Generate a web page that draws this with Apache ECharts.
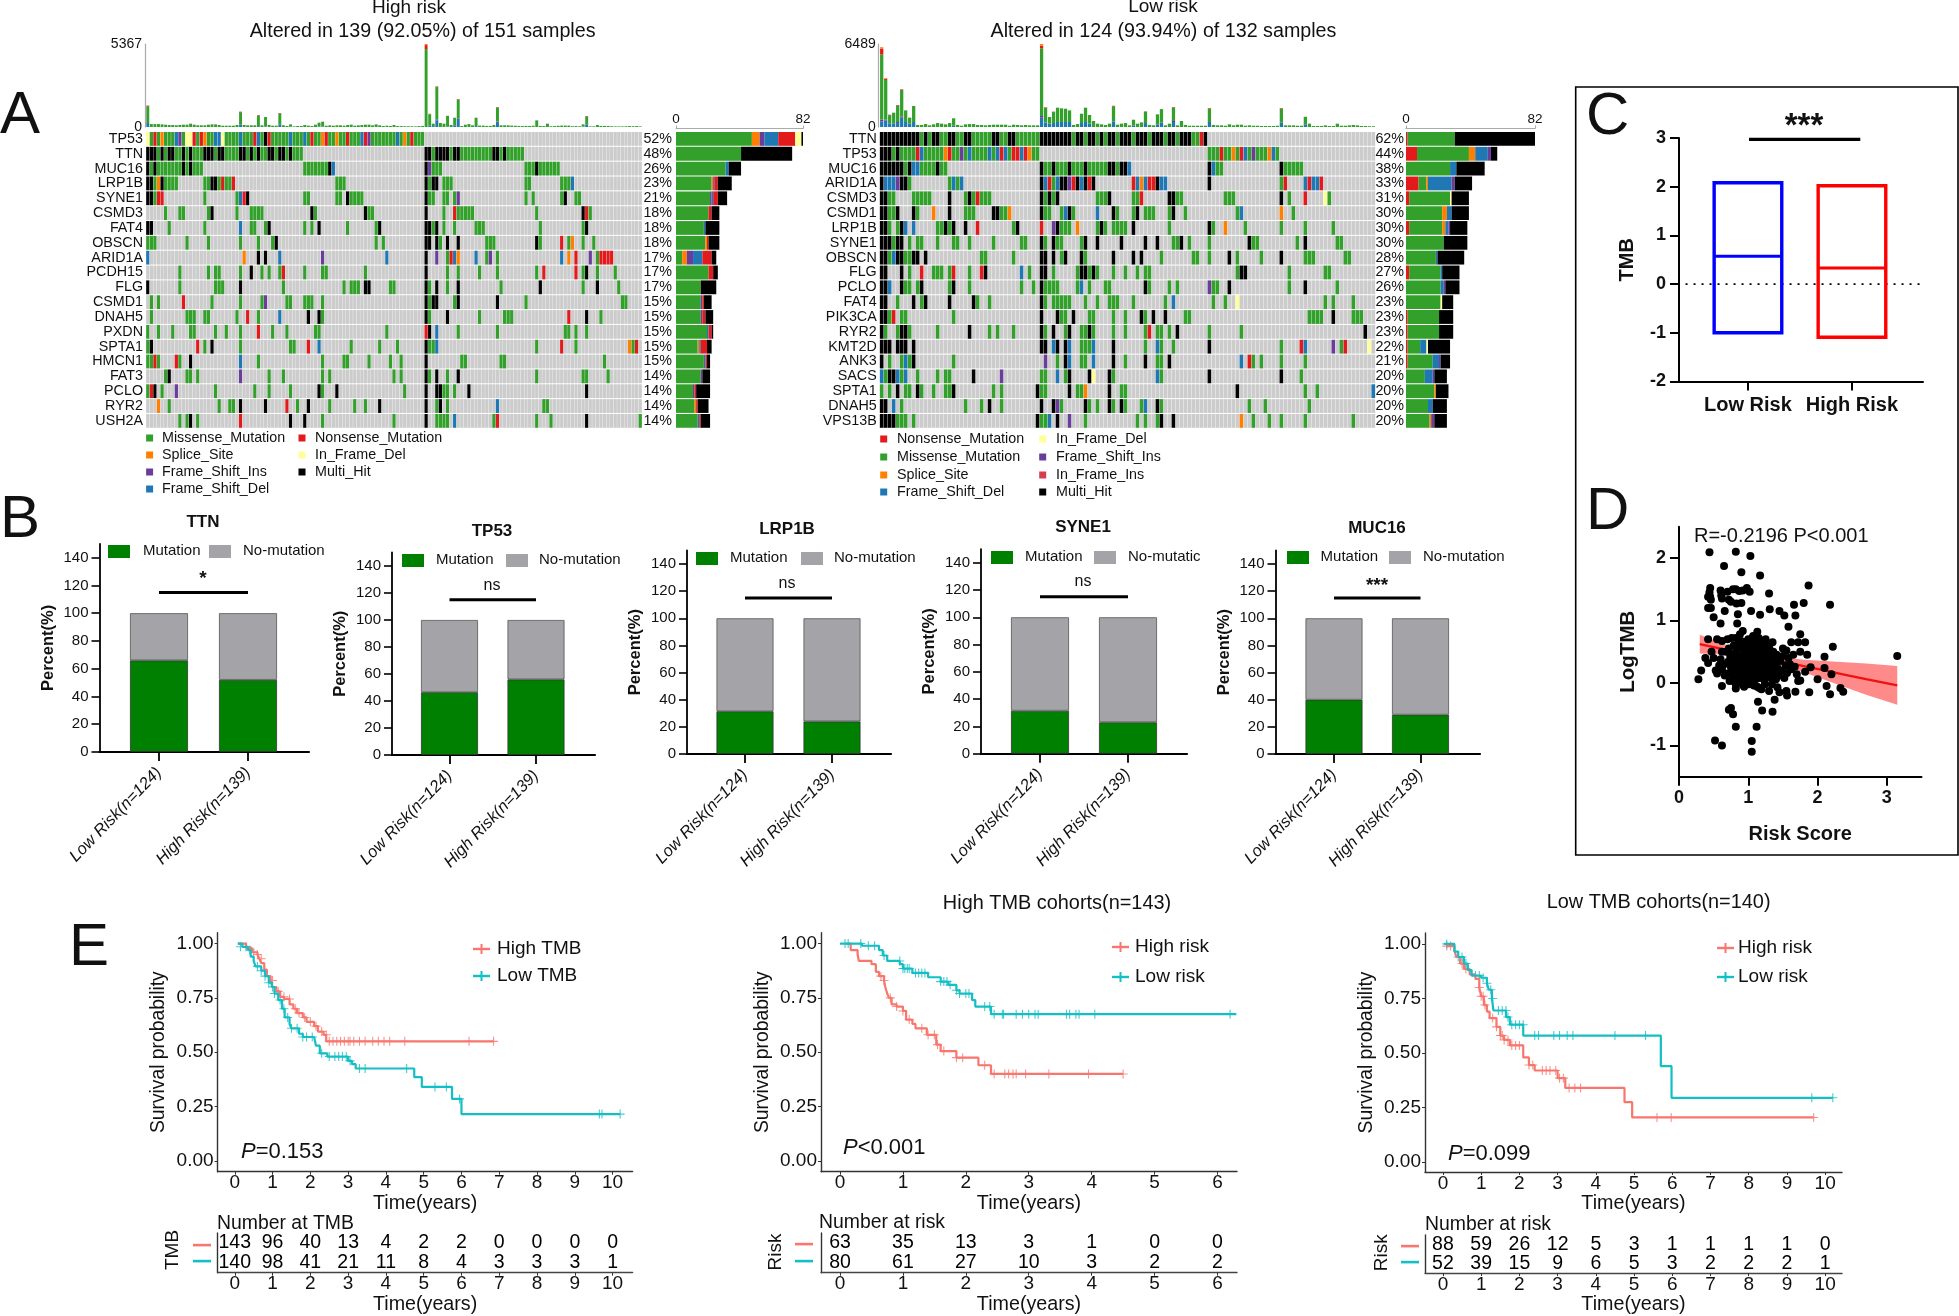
<!DOCTYPE html>
<html><head><meta charset="utf-8"><style>html,body{margin:0;padding:0;background:#fff}#c{width:1959px;height:1316px}</style>
<script src="https://cdn.jsdelivr.net/npm/echarts@6/dist/echarts.min.js"></script></head><body><div id="c"></div>
<script>
// ---------- DATA ----------
const genesHigh=['TP53','TTN','MUC16','LRP1B','SYNE1','CSMD3','FAT4','OBSCN','ARID1A','PCDH15','FLG','CSMD1','DNAH5','PXDN','SPTA1','HMCN1','FAT3','PCLO','RYR2','USH2A'];
const pctHigh=['52%','48%','26%','23%','21%','18%','18%','18%','17%','17%','17%','15%','15%','15%','15%','15%','14%','14%','14%','14%'];
const rowsHigh=[
"0f 1m 2n 3m 4s 5m3 8d 9i 10m 11f2 13n 14m 15n 16s 17m2 19d2 21f 22m4 26d 27m3 30n 31d 32m 33h 34n 35m5 40d 41m3 44d 45m 46n 47m2 49s 50n 51m2 53s 54m2 56n 57m3 60d 61n 62i 63m7 70d 71m 72s 73m 74n 75m3",
"0h3 3m 4h 5m 6h2 8m2 10h 11m 12h 13m3 16h3 19m 20h2 22m4 26h2 28m 29h 30m 31h 32m2 34h2 36m 37h2 39m 40h 41m3 78h2 80m 81h4 85m 86h2 88m9 97h2 99m 100h 101m5",
"0h 1m 2h 3m7 10h 11m 12h 13m3 44m7 51h 52d 78h 79i 80m3 106m3 109h 110m6",
"0h2 2m 3s 4h 5m4 16m2 18h2 20m 21n 22m2 24n 53m3 78h 79m 80h2 83m3 106m2 116m3 119d",
"0h2 2m 3n2 16m 25m 26d 27n 28h 44m2 53m2 56h 57m4 78h 79m2 83m2 86m 87i 106m 108m 116m 117h 120m2",
"5m 9m2 17m 18h 25m 29m4 46h 47m 61h 62m2 78h 83m 86n 87m5 109m 122h 123n 124m",
"0h2 6m 16m 26d 29m2 33m 34h 44m 46m 48h 56m 64m 65h 78h2 80m 81h 83m 86m 92m3 110m 122m 123h",
"0m3 11m 17m 26m 31m 35m 36h 64m 66m 78h2 81h 82m 84h 87h 95m3 109h 110m 116n 118m 119s 122m 125m",
"0d 27s 31h 33h 37d 49i 67d 78h 81i 84m 85n 86d 87s 92d 95m 96i 98m 116d 118s 120n 124i 126m 127n4",
"9m 17m 19m2 26m 29h 32m 34m 37m 38n 44m 49m2 61m 78h 84m 87m 93m 98m 109m 111n 120n 122m 123h 126m 131m",
"0h 9m 19m3 26h 38m 55m 57m3 61h2 68m2 78h 79m 81h 84m 87h 99m 110h 122m 126h 132m",
"1m 3m 10n 18m 26m 32m 33i 39m2 44m3 49m 78h 79m 80h2 86m 87h 98h 106m 133m2",
"1m 11m3 16m2 25m 28n 31m 37d 45h 48h 49m 78h 79m 84h 93m 100m3 118n 123h 127m",
"0m 3m 7m 12m2 19m 22m 26m 31n 35m 39m 47m2 67m 78n 79h 81d 87m 98m 117m2 120m 123m",
"0m 1h 14n 16m 18h 26m 40m2 45n 48d 57m 65m 70m 78h 79m2 81d 109m 116n 120m 135s 136m 137n",
"0m2 2n 3m 8n 9m 12h 26d 31m 49m 55m2 62m 68m 71m 78h 88m2 99m2 128m",
"5m 6h 11m2 14m 26i 34m 38m 49m 51m 69m 71m 78h 79m 81h 84m 87h 109m 122m2 129m",
"0m 1n 2h 4m 8i 19m 30m 34m 40m 48h 49m 53h 72m 78h 81h2 83m2 86m 90h 123h",
"3s 6m 20m 23m2 26h 33h 39n 42m 45h 51m 58m 61m 65h 78h 81m 82h 84m 98d 111m2",
"9m 11m 12h 14m 26n 40h 44h 49m 69m 78h 81m4 86d 97m 98n 109m 113m 123h 138m"];
const genesLow=['TTN','TP53','MUC16','ARID1A','CSMD3','CSMD1','LRP1B','SYNE1','OBSCN','FLG','PCLO','FAT4','PIK3CA','RYR2','KMT2D','ANK3','SACS','SPTA1','DNAH5','VPS13B'];
const pctLow=['62%','44%','38%','33%','31%','30%','30%','30%','28%','27%','26%','23%','23%','23%','22%','21%','20%','20%','20%','20%'];
const rowsLow=[
"0h10 10m 11h 12m 13h2 15m2 17h2 19m2 21h2 23m5 28h2 30m2 32h2 34m6 40h8 48m 49h2 51m 52h2 54m 55h 56m 57h2 59m 60h3 63m 64h3 67m 68h3 71m 72h2 74m 75h3 78m2 80n 81h",
"0h3 3m 4h 5m4 9n 10d 11m5 16s 17n 18m2 20i 21m 22d 23m4 27d 28m 29d 30n 31d 32m 33n2 35d 36n 37s 38m2 82m3 85n 86m2 88s 89m 90n 91d 92m 93i 94m3 97s 98d 99m",
"0h6 6m 7h 8d2 10m4 14h 15m2 40h 41m2 43h 44m3 47h 48m3 51h 52m5 57h2 59m 60h2 62d 82h 83d 84m2 100h 101m5",
"0h 1d3 4i 5h2 7m 17m 18d 19m 20d 40h 41d 42n 43m 44d 45h2 47i 48n 49h 50d 51h 52n 53h 63n 64d 65s 66d 67n2 69h 70d2 82h 100m 101n 106d 107n 108d2 110n",
"0h2 2m2 8m5 17h 21m 22h 23m 24n 25m3 40h 41m 42h 43m 44h 54m3 57h 63m2 65n 72h2 74m2 86m3 100h 102m 106n 111f 112m",
"0h2 2m2 4h 8h 9m 13s 17h 21m3 28h2 30m2 32s 40h 41m2 45m 46d 47h 48m 54d 58h 59m 63m 64h 66m3 72m 73h 76m 89m 90d 100s 103m",
"0h2 2m 4m 5h 6d 8d 14m2 16h 17m 18h 21h 24n 33m 34h 40n 43i 44h 45m3 49s 54m 55h 56m 58m4 63h 72m 82h 83m 86s 91m 100m 106m 113m",
"0h3 3m 4h2 7m 9m2 14m 18m2 22m 28m 35m2 40h 41m 43h 44m2 50m 51h 54h 60h 66h 69h 73m2 75h 77m 82m 92h 93m2 104m 106h 114m2",
"0h2 2m 3d 4h2 6m2 8h2 11h 25m2 33m 40h2 43h 45m 46h 50h 51m 58h 63h 65h 70m 78m2 82m 87h 89m 95m 100h 106m3 116m2",
"0h2 5h 7m 10n 13m3 17m 18n 22m 25n 26h 35d 37m 40h2 43m 49m 50h2 52m 53h 54m 58m 61m 64m 66m2 89m 90h2 102m 111m2",
"0h2 2d 5h 6m2 9m 10h 17m 18h 22m 35m 38m 40h 41m4 49m 50d 52m 56m2 66h 67m 72m 74m 82i 83m2 87h 102m 106h 114m",
"0h2 4m 8h 10m 11h 17h 23h 24m 27m 40h 41m 43m5 51m 54m 57m3 63m 71m 73d 83m 86m 89f 111m 113m 118m",
"0h2 2m 3n 5m2 18m 40h 44h 45m2 48h 52m2 58m 61m 65h 66m 68h 71h 76m2 107m4 113h 118m3",
"0h 1m 4m 5h2 7m 14m 22h 27m 29m 33m 40h 41m 43h 46m 47h 50m2 52h 53m 58m 61m 66m 67n 69m2 72m 74h 82m 90m 121h",
"0h3 4h3 8h 40h2 43d 44h 46h 47d 50m3 53d 58h 66m 69d 70m 73m 82h 100m 105n 106d 113i 115m 116n 122f",
"0h 2m 5m 6d 7m 8h 18m 41i 44m 46h 47d 50m2 53d 58h 61m 66h 69m2 72h 90d 92n 93m 95m 100m 106m",
"0d 1m 2h2 4d 5m 6d 9m 14m 16m2 23h 30i 40m2 44d 46m 47h 52h 53f 57h 58m 69d 70m 82h 100h 105m",
"0m 2m 4h 6m2 9h 10m 13m 16m2 18h 28m 30m 39h 40m2 47h 49m2 51s 57h 60m2 89h 106m 109m 123d",
"0h2 3d 5m 21m 25m 27h 30m 40h 43h 44i 45m 51h 52m 54m 57h 58m 60h 61m 65m 66d 69h 70m 92m 96m 107m",
"0h4 4m3 8m 39h 40m2 42d 44h 47i 51m 64m 66m 69m 70h 73h 90s 93m 97m 100m 106m 118m"];
const tmbHigh=[1400,190,190,190,170,150,130,130,110,130,150,150,215,150,110,110,110,150,170,170,130,85,85,85,85,130,990,130,110,110,110,775,110,645,130,85,85,905,110,65,170,45,65,65,130,85,65,150,280,345,85,110,85,110,110,85,130,150,85,110,130,150,150,110,170,110,65,85,65,130,60,60,50,50,45,40,60,70,5367,860,215,2620,260,215,730,130,600,1805,65,150,190,110,600,90,90,70,70,130,1290,110,110,110,90,80,70,60,70,70,80,430,70,60,215,50,60,80,90,90,90,50,60,45,170,710,40,45,130,70,70,70,50,40,40,40,50,60,50,60,40];
const tmbHighDel={0:260,26:170,31:60,33:40,37:170,40:20,48:40,49:40,79:80,80:60,81:430,84:40,86:110,87:540,92:60,98:320,122:30,123:170};
const tmbHighIns={81:60,87:30,98:30};
const tmbHighNon={0:40,26:30,31:30,37:30,78:260,81:40,87:30,92:20,98:30,123:30};
const tmbHighSpl={0:20,78:70,79:30,84:20};
const tmbLow=[6240,3820,960,1120,1720,2940,1300,730,1640,160,160,230,130,210,310,260,210,310,680,160,100,210,230,230,160,160,130,160,180,180,180,180,100,180,160,130,160,130,130,130,6489,1560,780,1200,1510,1460,1430,1300,160,230,1040,1510,940,470,260,210,160,260,1660,180,260,310,130,570,260,360,1220,160,130,990,1400,130,260,1560,130,470,160,100,100,100,100,100,1480,160,130,130,100,210,130,180,180,100,130,100,100,80,80,80,80,100,1480,130,130,130,100,100,800,260,80,80,80,130,80,80,260,100,100,130,160,130,80,80,60,60];
const tmbLowDel={0:420,1:520,2:290,3:290,4:310,5:730,6:390,7:260,8:390,18:100,40:730,41:360,42:260,43:310,44:390,45:390,46:390,47:390,50:310,51:390,52:260,58:440,63:100,66:310,69:210,70:360,73:390,82:390,100:340,106:210};
const tmbLowIns={0:160,1:50,4:80,5:100,40:130,73:80};
const tmbLowNon={0:470,1:80,2:30,4:50,5:50,40:210,41:40,43:30,58:40,73:40,82:40,100:40};
const tmbLowSpl={0:110,1:60,40:130,41:30};
const sideOrderHigh=['m','s','i','d','n','f','h'];
const sideHigh=[[49,5,3,9,11,4,1],[42,0,0,0,0,0,33],[32,0,0,2,0,0,8],[23,1,1,0,2,0,9],[22,0,1,1,3,0,6],[21,0,0,0,2,0,5],[18,0,0,1,0,0,9],[19,1,0,0,1,0,7],[4,3,4,6,6,0,3],[21,0,0,0,3,0,3],[16,0,0,0,0,0,10],[16,0,1,0,1,0,5],[16,0,1,0,2,0,5],[20,0,0,1,2,0,1],[14,1,0,1,4,0,3],[18,0,0,1,1,0,2],[16,0,1,0,0,0,5],[11,0,1,0,1,0,9],[12,1,0,0,1,0,7],[14,0,0,1,1,0,6]];
const sideOrderLow=['n','m','s','d','i','f','h'];
const sideLow=[[1,30,0,0,0,0,51],[7,33,4,8,2,0,4],[0,28,0,4,0,0,18],[8,5,1,15,2,0,11],[2,26,0,0,0,1,11],[0,23,3,3,0,0,11],[2,21,2,2,1,0,11],[0,24,0,0,0,0,15],[0,19,0,1,0,0,17],[2,20,0,1,0,0,11],[0,22,0,2,1,0,9],[0,22,0,0,0,1,7],[1,20,0,0,0,0,9],[1,20,0,0,0,0,9],[1,8,0,4,0,1,14],[1,16,0,4,1,0,6],[0,12,0,5,1,0,8],[0,18,1,0,0,0,8],[0,14,0,3,0,0,9],[0,15,1,0,2,0,8]];
const typeNames={m:'Missense_Mutation',n:'Nonsense_Mutation',s:'Splice_Site',i:'Frame_Shift_Ins',d:'Frame_Shift_Del',f:'In_Frame_Del',h:'Multi_Hit',r:'In_Frame_Ins'};
const typeColors={m:'#33A02C',n:'#E31A1C',s:'#FF7F00',i:'#6A3D9A',d:'#1F78B4',f:'#FFFF99',h:'#000000',r:'#D53E4F'};
const barGenes=['TTN','TP53','LRP1B','SYNE1','MUC16'];
const barCats=['Low Risk(n=124)','High Risk(n=139)'];
const mutLow=[66,46.5,31.5,31.5,40];
const mutHigh=[52,56,24,23,29];
const barSig=['*','ns','ns','ns','***'];
const pctTicks=[0,20,40,60,80,100,120,140];
const boxCats=['Low Risk','High Risk'];
const boxLow=[-1,0.57,2.08];
const boxHigh=[-1.09,0.33,2.02];
const tmbScatter=[[0.44,2.09],[0.82,2.1],[1.03,2.03],[0.65,1.87],[0.9,1.77],[1.17,1.72],[1.87,1.56],[0.45,1.52],[0.44,1.45],[0.45,1.38],[0.42,1.38],[0.46,1.33],[0.6,1.48],[0.61,1.4],[0.7,1.46],[0.78,1.5],[0.82,1.5],[0.87,1.47],[0.92,1.48],[0.98,1.52],[1.02,1.46],[0.62,1.35],[0.72,1.33],[0.75,1.3],[0.83,1.27],[0.9,1.28],[1.3,1.43],[0.42,1.2],[0.46,1.2],[0.66,1.15],[0.5,1.05],[1.04,1.15],[1.17,1.09],[1.31,1.18],[1.45,1.15],[1.52,1.08],[1.66,1.25],[1.8,1.28],[2.18,1.25],[1.68,1.08],[0.85,1.1],[0.6,0.95],[0.84,0.95],[1.58,0.9],[0.92,0.83],[1.13,0.82],[0.88,0.78],[1.75,0.78],[0.42,0.7],[0.55,0.7],[0.62,0.67],[0.7,0.7],[0.76,0.72],[0.82,0.72],[0.88,0.68],[1.72,0.65],[1.62,0.65],[1.82,0.65],[2.22,0.58],[1.0,0.7],[1.1,0.7],[1.2,0.65],[1.35,0.65],[1.5,0.55],[1.55,0.52],[0.28,0.06],[0.32,0.2],[0.38,0.4],[0.42,0.32],[0.47,0.5],[0.5,0.4],[0.53,0.2],[0.55,0.15],[0.62,0.22],[0.62,0.5],[0.6,0.38],[0.65,0.3],[0.62,-0.05],[0.7,0.15],[0.75,0.25],[0.78,0.45],[0.8,0.02],[0.82,-0.09],[0.85,0.2],[0.9,0.05],[0.92,-0.03],[0.72,-0.43],[0.75,-0.4],[0.78,-0.5],[0.82,-0.7],[0.52,-0.92],[0.62,-1.0],[1.05,-0.93],[1.05,-1.1],[1.12,-0.7],[1.14,-0.3],[1.2,-0.44],[1.35,-0.46],[1.38,-0.27],[1.3,-0.13],[1.42,-0.07],[1.45,-0.15],[1.55,-0.13],[1.56,-0.2],[1.68,-0.14],[1.88,-0.15],[2.13,-0.05],[2.18,-0.18],[2.33,-0.08],[2.37,-0.14],[2.0,0.06],[1.9,0.25],[2.1,0.24],[2.2,0.14],[2.1,0.42],[1.85,0.45],[1.75,0.5],[1.65,0.45],[1.6,0.3],[1.72,0.03],[1.75,0.04],[1.82,0.18],[3.15,0.43],
[0.72,0.55],[0.74,0.42],[0.76,0.33],[0.77,0.12],[0.79,0.6],[0.81,0.36],[0.83,0.5],[0.84,0.28],[0.86,0.62],[0.86,0.08],[0.88,0.42],[0.89,0.31],[0.9,0.55],[0.91,0.16],[0.93,0.66],[0.93,0.38],[0.94,0.24],[0.95,0.49],[0.96,0.07],[0.97,0.58],[0.98,0.33],[0.99,0.19],[1.0,0.44],[1.0,-0.02],[1.01,0.61],[1.02,0.27],[1.03,0.52],[1.04,0.11],[1.05,0.38],[1.06,0.66],[1.07,0.22],[1.08,0.47],[1.09,0.03],[1.09,0.56],[1.1,0.31],[1.11,0.14],[1.12,0.42],[1.13,-0.06],[1.13,0.6],[1.14,0.26],[1.15,0.5],[1.16,0.08],[1.17,0.36],[1.17,0.63],[1.18,0.19],[1.19,-0.1],[1.2,0.45],[1.21,0.28],[1.22,0.55],[1.23,0.05],[1.24,0.38],[1.25,0.16],[1.26,0.6],[1.27,0.24],[1.28,0.47],[1.29,0.09],[1.3,0.34],[1.31,0.53],[1.32,0.13],[1.33,0.42],[1.34,-0.02],[1.35,0.27],[1.36,0.5],[1.37,0.18],[1.38,0.37],[1.4,0.06],[1.41,0.45],[1.42,0.24],[1.44,0.12],[1.46,0.35],[1.48,0.2],[1.5,0.43],[1.52,0.08],[1.54,0.28],[1.56,0.16],[1.58,0.4],[1.62,0.22],[1.67,0.26],[1.7,0.14],[0.73,0.03],[0.78,0.22],[0.85,0.4],[0.88,0.56],[0.92,0.12],[0.95,0.3],[0.98,0.52],[1.02,0.06],[1.04,0.33],[1.06,0.48],[1.1,0.2],[1.12,0.58],[1.15,0.32],[1.18,0.5],[1.22,0.1],[1.25,0.42],[1.28,0.18],[1.32,0.3],[1.36,0.08],[1.4,0.26],[0.68,0.5],[0.66,0.12],[0.58,0.28],[0.71,0.34],[0.8,0.16],[0.82,-0.02],[0.94,-0.06],[1.08,-0.04],[1.16,-0.08],[1.24,-0.02],[1.07,0.75],[1.15,0.72],[1.25,0.7],[1.3,0.6]];
const fitX=[0.3,0.6,0.9,1.2,1.5,1.8,2.1,2.4,2.7,3.15];
const fitY=[0.62,0.55,0.48,0.41,0.34,0.27,0.2,0.13,0.06,-0.04];
const fitLo=[0.47,0.46,0.42,0.35,0.27,0.17,0.05,-0.07,-0.19,-0.35];
const fitHi=[0.77,0.64,0.54,0.47,0.41,0.37,0.35,0.33,0.31,0.27];
const survTicks=[0,0.25,0.5,0.75,1];
const km1High=[[0.08,1],[0.3,0.98],[0.45,0.96],[0.6,0.95],[0.65,0.93],[0.7,0.91],[0.78,0.88],[0.85,0.85],[0.95,0.83],[1.0,0.8],[1.1,0.78],[1.2,0.755],[1.3,0.745],[1.45,0.72],[1.55,0.7],[1.65,0.68],[1.8,0.66],[1.9,0.64],[2.1,0.62],[2.2,0.595],[2.35,0.58],[2.42,0.55],[6.85,0.55]];
const km1HighCens=[[0.5,0.96],[0.6,0.95],[0.7,0.93],[1.0,0.83],[1.15,0.78],[1.3,0.755],[1.45,0.745],[1.6,0.7],[1.7,0.68],[1.85,0.66],[2.0,0.64],[2.15,0.62],[2.3,0.595],[2.42,0.58],[2.5,0.55],[2.6,0.55],[2.7,0.55],[2.8,0.55],[2.9,0.55],[3.0,0.55],[3.05,0.55],[3.15,0.55],[3.3,0.55],[3.45,0.55],[3.65,0.55],[3.8,0.55],[3.95,0.55],[4.1,0.55],[4.5,0.55],[6.2,0.55],[6.85,0.55]];
const km1Low=[[0.08,1],[0.2,0.985],[0.35,0.97],[0.42,0.94],[0.5,0.92],[0.55,0.895],[0.7,0.875],[0.8,0.85],[0.9,0.82],[0.98,0.8],[1.05,0.77],[1.15,0.74],[1.25,0.7],[1.32,0.66],[1.45,0.63],[1.5,0.61],[1.7,0.585],[1.8,0.57],[2.1,0.565],[2.15,0.53],[2.25,0.495],[2.45,0.48],[3.0,0.46],[3.1,0.445],[3.2,0.425],[4.75,0.385],[4.95,0.34],[5.75,0.285],[6.0,0.215],[10.2,0.215]];
const km1LowCens=[[0.15,0.985],[0.3,0.985],[0.4,0.97],[0.6,0.895],[0.7,0.875],[0.8,0.85],[0.9,0.82],[1.0,0.8],[1.05,0.77],[1.2,0.74],[1.3,0.7],[1.4,0.66],[1.5,0.61],[1.65,0.61],[1.8,0.57],[1.9,0.57],[2.05,0.57],[2.3,0.495],[2.5,0.48],[2.65,0.48],[2.75,0.48],[2.85,0.48],[2.95,0.48],[3.05,0.46],[3.3,0.425],[3.45,0.425],[4.55,0.425],[5.3,0.34],[5.6,0.34],[5.95,0.285],[9.65,0.215],[9.72,0.215],[10.2,0.215]];
const km2High=[[0.1,1],[0.17,0.97],[0.28,0.95],[0.3,0.92],[0.5,0.905],[0.57,0.87],[0.62,0.85],[0.7,0.83],[0.72,0.8],[0.75,0.77],[0.78,0.75],[0.82,0.72],[0.9,0.71],[1.0,0.69],[1.05,0.65],[1.15,0.63],[1.2,0.61],[1.38,0.58],[1.53,0.535],[1.6,0.505],[1.85,0.475],[2.2,0.44],[2.4,0.4],[4.5,0.4]];
const km2HighCens=[[0.65,0.85],[0.7,0.83],[0.8,0.75],[0.9,0.71],[1.0,0.69],[1.1,0.65],[1.3,0.61],[1.4,0.58],[1.5,0.58],[1.55,0.535],[1.65,0.505],[1.85,0.475],[1.95,0.475],[2.3,0.44],[2.45,0.4],[2.62,0.4],[2.68,0.4],[2.75,0.4],[2.8,0.4],[2.95,0.4],[3.32,0.4],[3.95,0.4],[4.5,0.4]];
const km2Low=[[0,1],[0.35,0.99],[0.62,0.97],[0.68,0.945],[0.75,0.92],[0.95,0.905],[1.0,0.885],[1.15,0.865],[1.4,0.845],[1.6,0.825],[1.72,0.81],[1.85,0.785],[1.9,0.77],[2.1,0.74],[2.15,0.71],[2.4,0.675],[6.3,0.675]];
const km2LowCens=[[0.08,1],[0.13,1],[0.33,1],[0.45,0.99],[0.55,0.99],[0.7,0.945],[0.95,0.92],[1.0,0.885],[1.03,0.885],[1.07,0.885],[1.1,0.885],[1.2,0.865],[1.25,0.865],[1.3,0.865],[1.35,0.865],[1.6,0.825],[1.65,0.825],[1.7,0.825],[1.75,0.81],[1.85,0.785],[1.9,0.77],[2.0,0.77],[2.05,0.77],[2.3,0.71],[2.38,0.71],[2.45,0.675],[2.58,0.675],[2.6,0.675],[2.8,0.675],[2.9,0.675],[3.0,0.675],[3.1,0.675],[3.15,0.675],[3.6,0.675],[3.65,0.675],[3.75,0.675],[3.8,0.675],[4.05,0.675],[6.2,0.675]];
const km3High=[[0.08,0.99],[0.3,0.97],[0.35,0.94],[0.45,0.91],[0.55,0.885],[0.7,0.86],[0.85,0.84],[0.95,0.8],[1.0,0.76],[1.07,0.72],[1.15,0.69],[1.22,0.66],[1.4,0.62],[1.5,0.58],[1.6,0.56],[1.75,0.535],[2.1,0.48],[2.25,0.445],[2.4,0.42],[3.0,0.385],[3.2,0.34],[4.75,0.275],[4.95,0.205],[9.7,0.205]];
const km3HighCens=[[0.1,0.99],[0.2,0.99],[0.5,0.91],[0.6,0.885],[0.95,0.8],[1.0,0.76],[1.05,0.76],[1.1,0.72],[1.3,0.66],[1.4,0.62],[1.5,0.58],[1.55,0.58],[1.6,0.56],[1.7,0.56],[1.8,0.535],[1.9,0.535],[2.0,0.535],[2.25,0.445],[2.35,0.445],[2.6,0.42],[2.7,0.42],[2.8,0.42],[2.95,0.42],[3.05,0.385],[3.15,0.385],[3.3,0.34],[3.45,0.34],[3.6,0.34],[5.6,0.205],[5.97,0.205],[9.7,0.205]];
const km3Low=[[0.03,1],[0.3,0.965],[0.4,0.94],[0.55,0.91],[0.65,0.88],[0.75,0.855],[1.0,0.845],[1.15,0.82],[1.2,0.79],[1.28,0.75],[1.32,0.695],[1.65,0.665],[1.75,0.63],[2.1,0.58],[5.7,0.44],[5.98,0.295],[10.2,0.295]];
const km3LowCens=[[0.1,1],[0.4,0.94],[0.5,0.94],[0.6,0.91],[0.85,0.855],[0.95,0.855],[1.05,0.845],[1.15,0.82],[1.25,0.79],[1.3,0.75],[1.45,0.695],[1.55,0.695],[1.65,0.695],[1.7,0.665],[1.8,0.63],[1.9,0.63],[2.0,0.63],[2.1,0.63],[2.4,0.58],[2.5,0.58],[2.9,0.58],[3.05,0.58],[3.25,0.58],[3.4,0.58],[4.5,0.58],[5.3,0.58],[9.65,0.295],[10.2,0.295]];
const atRisk1=[[143,96,40,13,4,2,2,0,0,0,0],[140,98,41,21,11,8,4,3,3,3,1]];
const atRisk2=[[63,35,13,3,1,0,0],[80,61,27,10,3,2,2]];
const atRisk3=[[88,59,26,12,5,3,1,1,1,1,0],[52,39,15,9,6,5,3,2,2,2,1]];
// ---------- BUILD ----------
const F='"Liberation Sans", Arial, sans-serif';
const C_H='#F8766D',C_L='#13BEC4',INK='#111';
const grid=[],xAxis=[],yAxis=[],series=[],graphic=[];
function addGrid(l,t,w,h,xa,ya){grid.push({left:l,top:t,width:w,height:h});const i=grid.length-1;xAxis.push(Object.assign({gridIndex:i},xa));yAxis.push(Object.assign({gridIndex:i},ya));return i;}
function txt(s,x,y,o){o=o||{};graphic.push({type:'text',x,y,rotation:o.rot||0,silent:true,z:50,style:Object.assign({text:s,fontFamily:F,fontSize:o.size||14,fontWeight:o.weight||'normal',fontStyle:o.italic?'italic':'normal',fill:o.fill||INK,align:o.align||'left',verticalAlign:'middle',textAlign:o.align||'left',textVerticalAlign:'middle'},o.rich?{rich:o.rich}:{})});}
function box(x,y,w,h,fill){graphic.push({type:'rect',silent:true,z:50,shape:{x,y,width:w,height:h},style:{fill}});}
function parseRow(s){return s.split(' ').map(t=>{const m=t.match(/^(\d+)([a-z])(\d*)$/);return {start:+m[1],type:m[2],len:m[3]?+m[3]:1};});}
const typeKeys=['bg','m','n','s','i','d','f','h','r'];
function onco(cfg){
  const n=cfg.n,gr=addGrid(cfg.left,131.5,cfg.width,296.8,{type:'category',show:false,data:Array.from({length:n},(_,i)=>i)},
    {type:'category',inverse:true,data:cfg.genes,axisLine:{show:false},axisTick:{show:false},axisLabel:{interval:0,fontFamily:F,fontSize:14.3,color:INK,margin:3}});
  const cells=[];
  cfg.genes.forEach((g,y)=>{const row=new Array(n).fill(0);parseRow(cfg.rows[y]).forEach(r=>{for(let k=0;k<r.len;k++)if(r.start+k<n)row[r.start+k]=typeKeys.indexOf(r.type);});row.forEach((t,x)=>cells.push([x,y,t]));});
  series.push({type:'custom',xAxisIndex:gr,yAxisIndex:gr,progressive:0,silent:true,encode:{x:0,y:1},data:cells,renderItem(p,api){const c=api.coord([api.value(0),api.value(1)]),s=api.size([1,1]),t=typeKeys[api.value(2)];
    return {type:'rect',shape:{x:c[0]-s[0]/2+0.15,y:c[1]-s[1]/2+0.5,width:s[0]-0.3,height:s[1]-1},style:{fill:t==='bg'?'#CCCCCC':typeColors[t]}};}});
  const tg=addGrid(cfg.left,44,cfg.width,83,{type:'category',show:false,data:Array.from({length:n},(_,i)=>i)},
    {type:'value',min:0,max:cfg.top,interval:cfg.top,offset:1,splitLine:{show:false},axisLine:{show:true,lineStyle:{color:'#aaa',width:1.2}},axisTick:{show:false},axisLabel:{formatter:v=>String(v),fontFamily:F,fontSize:14,color:INK,margin:3}});
  const del=cfg.tmb.map((_,i)=>cfg.del[i]||0),ins=cfg.tmb.map((_,i)=>cfg.ins[i]||0),non=cfg.tmb.map((_,i)=>cfg.non[i]||0),spl=cfg.tmb.map((_,i)=>cfg.spl[i]||0);
  const mis=cfg.tmb.map((v,i)=>Math.max(v-del[i]-ins[i]-non[i]-spl[i],0));
  [['d',del],['i',ins],['m',mis],['n',non],['s',spl]].forEach(([k,d])=>series.push({type:'bar',name:typeNames[k],xAxisIndex:tg,yAxisIndex:tg,stack:'t'+tg,data:d,barCategoryGap:'18%',itemStyle:{color:typeColors[k]},silent:true}));
  const sg=addGrid(cfg.sideLeft,131.5,cfg.sideW,296.8,{type:'value',position:'top',min:0,max:82,interval:82,offset:3,splitLine:{show:false},axisLine:{show:true,lineStyle:{color:'#aaa',width:1.2}},axisTick:{show:true,length:3,lineStyle:{color:'#aaa'}},axisLabel:{fontFamily:F,fontSize:13.5,color:INK,margin:2}},
    {type:'category',inverse:true,data:cfg.pct,axisLine:{show:false},axisTick:{show:false},axisLabel:{interval:0,fontFamily:F,fontSize:14.3,color:INK,margin:cfg.pctMargin}});
  cfg.order.forEach((k,j)=>series.push({type:'bar',name:typeNames[k],xAxisIndex:sg,yAxisIndex:sg,stack:'s'+sg,barCategoryGap:'7%',silent:true,data:cfg.side.map(r=>r[j]),itemStyle:{color:typeColors[k]}}));
}
onco({n:139,left:146,width:496,genes:genesHigh,pct:pctHigh,rows:rowsHigh,top:5367,tmb:tmbHigh,del:tmbHighDel,ins:tmbHighIns,non:tmbHighNon,spl:tmbHighSpl,sideLeft:676,sideW:127,order:sideOrderHigh,side:sideHigh,pctMargin:4});
onco({n:124,left:879.7,width:495.6,genes:genesLow,pct:pctLow,rows:rowsLow,top:6489,tmb:tmbLow,del:tmbLowDel,ins:tmbLowIns,non:tmbLowNon,spl:tmbLowSpl,sideLeft:1406,sideW:129,order:sideOrderLow,side:sideLow,pctMargin:2});
txt('High risk',409,8,{size:19,align:'center'});
txt('Altered in 139 (92.05%) of 151 samples',422.6,32,{size:19.7,align:'center'});
txt('Low risk',1163,7,{size:19,align:'center'});
txt('Altered in 124 (93.94%) of 132 samples',1163.5,32,{size:19.7,align:'center'});
function legendCol(items,sx,tx,ys){items.forEach((k,i)=>{box(sx-3.5,ys[i]-3.5,7,7,typeColors[k]);txt(typeNames[k],tx,ys[i],{size:14.3});});}
legendCol(['m','s','i','d'],149.6,162,[438,455,472,489]);
legendCol(['n','f','h'],302,315,[438,455,472]);
legendCol(['n','m','s','d'],883.7,897,[439,457,475,492]);
legendCol(['f','i','r','h'],1042.7,1056,[439,457,475,492]);
[['A',0,116],['B',0,520],['C',1586,117],['D',1586,512],['E',69,948]].forEach(a=>txt(a[0],a[1],a[2],{size:60}));
// Panel B
const barLayout=[
 {ax:99.5,end:309,y0:752,y140:557.7,c1:159,c2:248,bw:58,tx:203,ty:522,ly:551,s1:108,t1:143,s2:209,t2:243,sy:576,lbl:'No-mutation'},
 {ax:392,end:595,y0:755,y140:566,c1:449.5,c2:536,bw:57,tx:492,ty:531,ly:560,s1:402,t1:436,s2:506,t2:539,sy:586,lbl:'No-mutation'},
 {ax:687,end:891,y0:754,y140:564,c1:745,c2:832,bw:57,tx:787,ty:529,ly:558,s1:696,t1:730,s2:801,t2:834,sy:584,lbl:'No-mutation'},
 {ax:981,end:1187,y0:753.7,y140:562.7,c1:1040,c2:1128,bw:58,tx:1083,ty:527,ly:557,s1:991,t1:1025,s2:1094,t2:1128,sy:582,lbl:'No-mutatic'},
 {ax:1275.5,end:1480,y0:754,y140:564,c1:1334,c2:1420.5,bw:57,tx:1377,ty:528,ly:557,s1:1287,t1:1320.6,s2:1389,t2:1423,sy:583,lbl:'No-mutation'}];
barGenes.forEach((g,i)=>{const L=barLayout[i],u=(L.y0-L.y140)/140,band=L.c2-L.c1,xmin=1-(L.c1-L.ax)/band,xmax=2+(L.end-L.c2)/band,h=150*u;
  const gi=addGrid(L.ax,L.y0-h,L.end-L.ax,h,
   {type:'value',min:xmin,max:xmax,splitLine:{show:false},axisLine:{show:true,onZero:false,lineStyle:{color:'#000',width:2.2}},axisTick:{show:true,customValues:[1,2],length:9,lineStyle:{color:'#000',width:1.8}},axisLabel:{customValues:[1,2],formatter:v=>barCats[Math.round(v)-1],rotate:46,fontFamily:F,fontSize:16.5,fontStyle:'italic',color:INK,margin:18}},
   {type:'value',min:0,max:150,name:'Percent(%)',nameLocation:'middle',nameGap:43,nameTextStyle:{fontFamily:F,fontSize:16.5,fontWeight:'bold',color:INK},splitLine:{show:false},axisLine:{show:true,lineStyle:{color:'#000',width:1.8}},axisTick:{show:true,customValues:pctTicks,length:8,lineStyle:{color:'#000',width:1.6}},axisLabel:{customValues:pctTicks,fontFamily:F,fontSize:15,color:INK,margin:11}});
  series.push({type:'bar',name:'Mutation',xAxisIndex:gi,yAxisIndex:gi,stack:'b'+gi,barWidth:L.bw,silent:true,encode:{x:1,y:0},data:[[mutLow[i],1],[mutHigh[i],2]],itemStyle:{color:'#008000',borderColor:'#333',borderWidth:0.8}});
  series.push({type:'bar',name:'No-mutation',xAxisIndex:gi,yAxisIndex:gi,stack:'b'+gi,barWidth:L.bw,silent:true,encode:{x:1,y:0},data:[[100-mutLow[i],1],[100-mutHigh[i],2]],itemStyle:{color:'#A3A3A8',borderColor:'#555',borderWidth:0.8}});
  series.push({type:'line',xAxisIndex:gi,yAxisIndex:gi,silent:true,symbol:'none',data:[[1,115],[2,115]],lineStyle:{color:'#000',width:3}});
  txt(g,L.tx,L.ty,{size:17,weight:'bold',align:'center'});
  box(L.s1,L.ly-6,22,13,'#008000');txt('Mutation',L.t1,L.ly,{size:15});
  box(L.s2,L.ly-6,22,13,'#A3A3A8');txt(L.lbl,L.t2,L.ly,{size:15});
  txt(barSig[i],L.tx,L.sy+(barSig[i]==='ns'?0:3),{size:barSig[i]==='ns'?16:19,align:'center',weight:barSig[i]==='ns'?'normal':'bold'});
});
// Panel C
graphic.push({type:'rect',silent:true,z:40,shape:{x:1575.7,y:87,width:382.3,height:768},style:{fill:'none',stroke:'#000',lineWidth:1.6}});
const cg=addGrid(1679,138,244,243.5,
 {type:'value',min:0.337,max:2.683,splitLine:{show:false},axisLine:{show:true,onZero:false,lineStyle:{color:'#000',width:2}},axisTick:{show:true,customValues:[1,2],length:9,lineStyle:{color:'#000',width:2}},axisLabel:{customValues:[1,2],formatter:v=>boxCats[Math.round(v)-1],fontFamily:F,fontSize:20,fontWeight:'bold',color:INK,margin:14}},
 {type:'value',min:-2,max:3,name:'TMB',nameLocation:'middle',nameGap:42,nameTextStyle:{fontFamily:F,fontSize:20,fontWeight:'bold',color:INK},splitLine:{show:false},axisLine:{show:true,onZero:false,lineStyle:{color:'#000',width:2}},axisTick:{show:true,customValues:[-2,-1,0,1,2,3],length:9,lineStyle:{color:'#000',width:2}},axisLabel:{customValues:[-2,-1,0,1,2,3],fontFamily:F,fontSize:18,fontWeight:'bold',color:INK,margin:13}});
series.push({type:'line',xAxisIndex:cg,yAxisIndex:cg,silent:true,symbol:'none',data:[[0.4,0],[2.68,0]],lineStyle:{color:'#000',width:1.8,type:[2,6]},z:1});
[[1,boxLow,'#0000FF'],[2,boxHigh,'#FF0000']].forEach(([pos,b,col])=>{
 series.push({type:'custom',xAxisIndex:cg,yAxisIndex:cg,silent:true,z:3,encode:{x:0,y:[1,2,3]},data:[[pos,b[0],b[1],b[2]]],renderItem(p,api){const x=api.value(0),w=api.size([0.65,0])[0]/2;
   const a=api.coord([x,api.value(1)]),m=api.coord([x,api.value(2)]),t=api.coord([x,api.value(3)]);
   const st={stroke:col,lineWidth:3.4,fill:'none'};
   return {type:'group',children:[{type:'rect',shape:{x:a[0]-w,y:t[1],width:2*w,height:a[1]-t[1]},style:st},{type:'line',shape:{x1:a[0]-w,y1:m[1],x2:a[0]+w,y2:m[1]},style:{stroke:col,lineWidth:3}}]};}});
});
series.push({type:'line',xAxisIndex:cg,yAxisIndex:cg,silent:true,symbol:'none',data:[[1.01,2.97],[2.08,2.97]],lineStyle:{color:'#000',width:3.2}});
txt('***',1804,127,{size:33,weight:'bold',align:'center'});
// Panel D
const dg=addGrid(1679,526.7,242.5,250,
 {type:'value',min:0,max:3.5,name:'Risk Score',nameLocation:'middle',nameGap:48,nameTextStyle:{fontFamily:F,fontSize:20,fontWeight:'bold',color:INK},splitLine:{show:false},axisLine:{show:true,onZero:false,lineStyle:{color:'#000',width:2}},axisTick:{show:true,customValues:[0,1,2,3],length:9,lineStyle:{color:'#000',width:2}},axisLabel:{customValues:[0,1,2,3],fontFamily:F,fontSize:18,fontWeight:'bold',color:INK,margin:12}},
 {type:'value',min:-1.5,max:2.5,name:'LogTMB',nameLocation:'middle',nameGap:40,nameTextStyle:{fontFamily:F,fontSize:20.5,fontWeight:'bold',color:INK},splitLine:{show:false},axisLine:{show:true,onZero:false,lineStyle:{color:'#000',width:2}},axisTick:{show:true,customValues:[-1,0,1,2],length:9,lineStyle:{color:'#000',width:2}},axisLabel:{customValues:[-1,0,1,2],fontFamily:F,fontSize:18,fontWeight:'bold',color:INK,margin:13}});
series.push({type:'custom',xAxisIndex:dg,yAxisIndex:dg,silent:true,z:1,encode:{x:0,y:1},data:[[fitX[0],fitLo[0]]],renderItem(p,api){const pts=fitX.map((x,i)=>api.coord([x,fitHi[i]])).concat(fitX.map((x,i)=>api.coord([x,fitLo[i]])).reverse());return {type:'polygon',shape:{points:pts},style:{fill:'#FF8A8A'}};}});
series.push({type:'line',xAxisIndex:dg,yAxisIndex:dg,silent:true,z:2,symbol:'none',data:fitX.map((x,i)=>[x,fitY[i]]),lineStyle:{color:'#F01010',width:2.2}});
series.push({type:'scatter',xAxisIndex:dg,yAxisIndex:dg,silent:true,z:3,symbolSize:8,data:tmbScatter,itemStyle:{color:'#000',opacity:1}});
txt('R=-0.2196 P<0.001',1694,536,{size:20});
// Panel E
const PLUS='path://M4.4 0h1.2v4.4h4.4v1.2h-4.4v4.4h-1.2v-4.4h-4.4v-1.2h4.4z';
function km(c){
 const gi=addGrid(c.ax,c.top,c.end-c.ax,c.bottom-c.top,
  {type:'value',min:c.xmin,max:c.xmax,name:'Time(years)',nameLocation:'middle',nameGap:8,nameTextStyle:{fontFamily:F,fontSize:19.7,color:INK},splitLine:{show:false},axisLine:{show:true,onZero:false,lineStyle:{color:'#333',width:1.4}},axisTick:{show:true,customValues:c.ticks,length:3,lineStyle:{color:'#333'}},axisLabel:{customValues:c.ticks,fontFamily:F,fontSize:19,color:INK,margin:2}},
  {type:'value',min:c.ymin,max:c.ymax,name:'Survival probability',nameLocation:'middle',nameGap:c.ynameGap,nameTextStyle:{fontFamily:F,fontSize:19.3,color:INK},splitLine:{show:false},axisLine:{show:true,onZero:false,lineStyle:{color:'#333',width:1.4}},axisTick:{show:true,customValues:survTicks,length:3,lineStyle:{color:'#333'}},axisLabel:{customValues:survTicks,formatter:v=>v.toFixed(2),fontFamily:F,fontSize:19,color:INK,margin:4}});
 [[c.hi,c.hiC,C_H,c.names[0]],[c.lo,c.loC,C_L,c.names[1]]].forEach(([d,cen,col,nm])=>{
  series.push({type:'line',name:nm,xAxisIndex:gi,yAxisIndex:gi,silent:true,step:'end',symbol:'none',data:d,lineStyle:{color:col,width:2.2}});
  series.push({type:'scatter',xAxisIndex:gi,yAxisIndex:gi,silent:true,symbol:PLUS,symbolSize:9,data:cen,itemStyle:{color:col}});
 });
 const tg=addGrid(c.ax,c.tTop,c.end-c.ax,c.tBottom-c.tTop,
  {type:'value',min:c.xmin,max:c.xmax,name:'Time(years)',nameLocation:'middle',nameGap:8,nameTextStyle:{fontFamily:F,fontSize:19.7,color:INK},splitLine:{show:false},axisLine:{show:true,onZero:false,lineStyle:{color:'#444',width:1.4}},axisTick:{show:true,customValues:c.ticks,length:3,lineStyle:{color:'#333'}},axisLabel:{customValues:c.ticks,fontFamily:F,fontSize:19,color:INK,margin:2}},
  {type:'category',inverse:true,data:c.names,axisLine:{show:true,onZero:false,lineStyle:{color:'#333',width:1.4}},axisTick:{show:false},axisLabel:{show:false}});
 c.risk.forEach((r,j)=>series.push({type:'scatter',xAxisIndex:tg,yAxisIndex:tg,silent:true,symbolSize:1,itemStyle:{color:'rgba(0,0,0,0)'},data:r.map((v,k)=>[c.ticks[k],j,v]),
   label:{show:true,position:'inside',formatter:p=>String(p.value[2]),fontFamily:F,fontSize:19.5,color:'#000',opacity:1,textBorderWidth:0}}));
 [[c.legY[0],C_H,c.names[0]],[c.legY[1],C_L,c.names[1]]].forEach(([y,col,nm])=>{box(c.legS,y-1.2,17,2.4,col);box(c.legS+7.5,y-5,2,10,col);txt(nm,c.legT,y,{size:19});});
 txt(c.p,c.px,c.py,{size:22,rich:{i:{fontStyle:'italic',fontFamily:F,fontSize:22,fill:INK}}});
 txt(c.tblTitle,c.tblX,c.tblY,{size:19.4});
 box(c.swS,c.swY[0]-1.2,18,2.6,C_H);box(c.swS,c.swY[1]-1.2,18,2.6,C_L);
 txt(c.tblAxis,c.rotX,c.rotY,{size:19,rot:Math.PI/2,align:'center'});
}
const t10=[0,1,2,3,4,5,6,7,8,9,10],t6=[0,1,2,3,4,5,6];
km({ax:217.6,end:632.6,top:932.7,bottom:1171.7,xmin:-0.455,xmax:10.53,ymin:-0.05,ymax:1.05,ynameGap:49,ticks:t10,hi:km1High,hiC:km1HighCens,lo:km1Low,loC:km1LowCens,names:['High TMB','Low TMB'],tTop:1233,tBottom:1272.7,risk:atRisk1,legY:[949,976],legS:473,legT:497,p:'{i|P}=0.153',px:241,py:1152,tblTitle:'Number at TMB',tblX:217,tblY:1224,swS:193,swY:[1245,1261],tblAxis:'TMB',rotX:173,rotY:1250});
km({ax:821,end:1237,top:932.7,bottom:1171.7,xmin:-0.302,xmax:6.31,ymin:-0.05,ymax:1.05,ynameGap:49,ticks:t6,hi:km2High,hiC:km2HighCens,lo:km2Low,loC:km2LowCens,names:['High risk','Low risk'],tTop:1233,tBottom:1272.7,risk:atRisk2,legY:[947,977],legS:1112,legT:1135,p:'{i|P}<0.001',px:843,py:1148,tblTitle:'Number at risk',tblX:819,tblY:1223,swS:795,swY:[1244,1261],tblAxis:'Risk',rotX:776,rotY:1252});
km({ax:1425,end:1842,top:933,bottom:1172,xmin:-0.47,xmax:10.44,ymin:-0.045,ymax:1.05,ynameGap:49,ticks:t10,hi:km3High,hiC:km3HighCens,lo:km3Low,loC:km3LowCens,names:['High risk','Low risk'],tTop:1235,tBottom:1273.7,risk:atRisk3,legY:[948,977],legS:1717,legT:1738,p:'{i|P}=0.099',px:1448,py:1154,tblTitle:'Number at risk',tblX:1425,tblY:1225,swS:1401,swY:[1246,1262],tblAxis:'Risk',rotX:1382,rotY:1252.7});
txt('High TMB cohorts(n=143)',1057,904,{size:19.9,align:'center'});
txt('Low TMB cohorts(n=140)',1658.6,903,{size:19.9,align:'center'});
const chart=echarts.init(document.getElementById('c'),null,{renderer:'canvas',width:1959,height:1316});
chart.setOption({animation:false,backgroundColor:'#fff',textStyle:{fontFamily:F},grid,xAxis,yAxis,series,graphic:{elements:graphic}});
</script></body></html>
